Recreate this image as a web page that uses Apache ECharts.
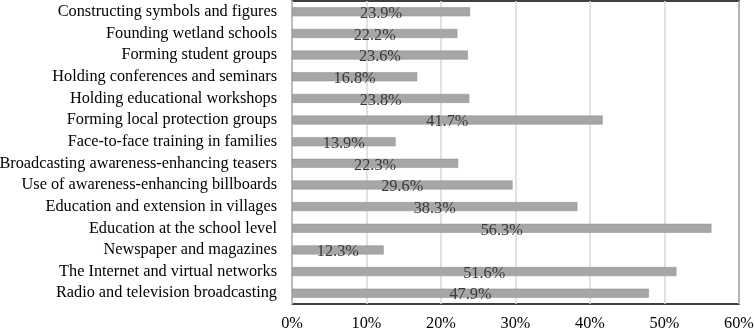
<!DOCTYPE html>
<html>
<head>
<meta charset="utf-8">
<script src="https://cdn.jsdelivr.net/npm/echarts@6/dist/echarts.min.js"></script>
<style>
  html, body { margin: 0; padding: 0; background: #ffffff; }
  #chart { width: 754px; height: 329px; }
</style>
</head>
<body>
<div id="chart"></div>
<script>
  // categories, top to bottom
  var categories = [
    'Constructing symbols and figures',
    'Founding wetland schools',
    'Forming student groups',
    'Holding conferences and seminars',
    'Holding educational workshops',
    'Forming local protection groups',
    'Face-to-face training in families',
    'Broadcasting awareness-enhancing teasers',
    'Use of awareness-enhancing billboards',
    'Education and extension in villages',
    'Education at the school level',
    'Newspaper and magazines',
    'The Internet and virtual networks',
    'Radio and television broadcasting'
  ];
  var percents = [23.9, 22.2, 23.6, 16.8, 23.8, 41.7, 13.9, 22.3, 29.6, 38.3, 56.3, 12.3, 51.6, 47.9];

  var serif = '"Liberation Serif", "DejaVu Serif", serif';

  var chart = echarts.init(document.getElementById('chart'));
  chart.setOption({
    animation: false,
    grid: {
      left: 292, right: 15, top: 1, bottom: 25,
      containLabel: false,
      outerBoundsMode: 'none',
      show: true, borderColor: '#000', borderWidth: 1.5
    },
    xAxis: {
      type: 'value',
      min: 0, max: 60, interval: 10,
      axisLine: { show: false },
      axisTick: { show: false },
      splitLine: { show: true, lineStyle: { color: '#d9d9d9', width: 1.5 } },
      axisLabel: {
        formatter: '{value}%',
        fontFamily: serif, fontSize: 16.3, color: '#000', margin: 12
      }
    },
    yAxis: {
      type: 'category',
      data: categories,
      inverse: true,
      axisLine: { show: true, lineStyle: { color: '#bfbfbf', width: 1.5 } },
      axisTick: { show: false },
      axisLabel: { fontFamily: serif, fontSize: 16.3, color: '#000', margin: 15 }
    },
    series: [{
      type: 'bar',
      data: percents,
      barWidth: 9,
      itemStyle: { color: '#a6a6a6', borderColor: '#8c8c8c', borderWidth: 0.5 },
      label: {
        show: true,
        position: 'inside',
        formatter: function (p) { return p.value.toFixed(1) + '%'; },
        fontFamily: serif, fontSize: 16.3, color: '#3a3a3a',
        offset: [0, 2]
      }
    }]
  });
</script>
</body>
</html>
